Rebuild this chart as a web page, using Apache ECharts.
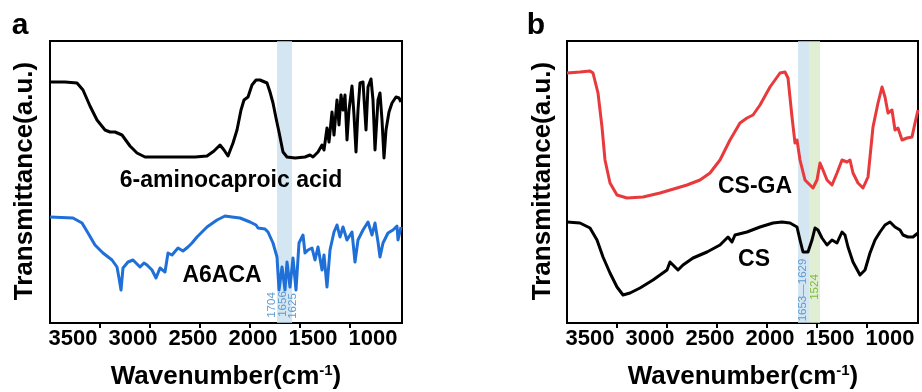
<!DOCTYPE html>
<html><head><meta charset="utf-8">
<script src="https://cdn.jsdelivr.net/npm/echarts@6/dist/echarts.min.js"></script>
<style>html,body{margin:0;padding:0;background:#fff}#c{width:922px;height:392px}</style>
</head><body><div id="c"></div>
<script>
// ---- data (wavenumber cm-1, transmittance a.u.) ----
const xTickLabels = [3500, 3000, 2500, 2000, 1500, 1000];

const acidWn = [4000,3850,3730,3670,3600,3530,3450,3400,3350,3280,3200,3130,3050,2800,2550,2430,2360,2300,2260,2220,2170,2130,2090,2060,2020,1980,1940,1920,1900,1880,1830,1800,1770,1740,1710,1670,1630,1550,1450,1400,1370,1320,1280,1260,1230,1210,1180,1160,1130,1110,1090,1070,1050,1030,1010,980,960,940,920,900,870,840,820,790,770,750,720,700,680,660,640,610,580,540,510,490];
const acidT = [120.5,120.5,120,116.5,108.5,101.5,96.5,95.5,95.5,94,88.5,85,83,83,83,83.5,86,89,86.5,83.5,90,96.5,106.5,111.5,113,119,121.5,122.5,121.5,120.5,120,115.5,110,102.5,95.5,85.5,83,82.5,83,84,83,85.5,89,86.5,97.5,90.5,105.5,94,111.5,99,114,106.5,114,91.5,106.5,118.5,104,85.5,106.5,120,120.5,96.5,118,122,111.5,86.5,111.5,115,101.5,82.5,96.5,105.5,110,113,112.5,110.5];

const a6acaWn = [4000,3770,3680,3620,3550,3470,3380,3330,3310,3290,3270,3220,3170,3130,3100,3060,3030,2980,2940,2900,2850,2820,2780,2720,2670,2620,2580,2530,2430,2330,2250,2180,2100,2000,1940,1920,1900,1850,1820,1770,1730,1710,1680,1650,1630,1600,1570,1540,1510,1470,1450,1420,1380,1350,1320,1280,1260,1230,1200,1160,1130,1100,1070,1030,980,950,920,870,820,780,750,720,700,670,620,570,530,520,490];
const a6acaT = [53,52.5,50,45,39,35,31.5,28,22.5,16.5,27.5,30.5,31.5,29.5,28,30,29,26.5,22.5,27.5,25.5,35,34,37.5,36,38,40,43,48,51.5,53.5,53,52.5,50.5,49,47.5,48.5,47,45.5,40,33,16.5,28,16.5,30.5,18,32.5,16.5,40,44,35,36.5,37.5,31.5,38,26.5,34,18,36.5,45.5,49,43,48,41.5,45.5,30.5,41.5,46.5,50.5,44,50,40.5,33,40,45,46.5,48.5,41.5,48];

const csgaWn = [4000,3870,3770,3740,3720,3690,3650,3620,3570,3500,3400,3240,3070,2900,2800,2670,2570,2470,2370,2270,2200,2140,2070,1970,1870,1820,1790,1750,1720,1700,1670,1620,1590,1540,1500,1470,1440,1400,1350,1300,1250,1200,1170,1140,1090,1040,990,940,890,850,820,790,750,720,690,650,600,550,520,490];
const csgaT = [125,125.5,126,125,124,115,98,81.5,70,64,62.5,63,65,67.5,69,71.5,75,81.5,91.5,100,102.5,104,109,118,125,125.5,122.5,103,90,91.5,81.5,71.5,70,67.5,71.5,80,76.5,71.5,69,75,81.5,80.5,81.5,75,70,67.5,73,98,110,118,113,105,106.5,96.5,97.5,91.5,92.5,93,100,106.5];

const csWn = [4000,3870,3770,3700,3640,3570,3500,3440,3370,3270,3140,3000,2970,2940,2890,2840,2740,2600,2470,2390,2350,2320,2200,2070,1940,1850,1770,1700,1670,1640,1590,1550,1520,1490,1450,1400,1350,1300,1250,1220,1190,1140,1070,1020,970,920,870,820,770,720,670,640,590,540,490];
const csT = [50.5,50,47.5,41.5,33,25,18,14,15,17.5,21.5,26.5,30.5,29,26.5,29,32.5,35.5,39,43,40.5,44,45.5,48,50,50.5,50,48,41.5,35.5,35.5,41.5,47.5,46.5,42.5,39,41.5,40,45.5,44,38,30.5,24,26.5,35,41.5,45.5,49,50.5,48,46.5,44,43,43,45];

// shaded bands (cm-1)
const bandA = [1730, 1580];
const bandB1 = [1690, 1580];
const bandB2 = [1580, 1470];

const FONT = '"Liberation Sans", Arial, sans-serif';
const zip = (a, b) => a.map((v, i) => [v, b[i]]);

const chart = echarts.init(document.getElementById('c'), null, {renderer: 'canvas'});

function dataAxis(grid, min) {
  return {
    type: 'value', gridIndex: grid, position: 'bottom', inverse: true,
    min: min, max: 4000,
    axisLine: {show: true, lineStyle: {color: '#000', width: 2}},
    axisTick: {show: true, customValues: xTickLabels, inside: false, length: 5, lineStyle: {color: '#000', width: 2}},
    axisLabel: {show: false},
    splitLine: {show: false}
  };
}
function labelAxis(grid, min, max) {
  return {
    type: 'value', gridIndex: grid, position: 'bottom', inverse: true,
    min: min, max: max,
    axisLine: {show: false}, axisTick: {show: false}, splitLine: {show: false},
    axisLabel: {customValues: xTickLabels, formatter: v => String(Math.round(v)), fontSize: 22, fontWeight: 'bold', color: '#000', fontFamily: FONT, margin: 5}
  };
}
function yAx(grid) {
  return {
    type: 'value', gridIndex: grid, min: 0, max: 141,
    axisLine: {show: true, lineStyle: {color: '#000', width: 2}},
    axisTick: {show: false}, axisLabel: {show: false}, splitLine: {show: false}
  };
}
function curve(name, xi, yi, wn, t, color) {
  return {
    name, type: 'line', xAxisIndex: xi, yAxisIndex: yi, data: zip(wn, t),
    symbol: 'none', smooth: false, z: 3, silent: true,
    lineStyle: {color: color, width: 3, join: 'round'}
  };
}
function bandSeries(xi, yi, bands) {
  return {
    type: 'line', xAxisIndex: xi, yAxisIndex: yi, data: [[4000, 0]], symbol: 'none', z: 1,
    lineStyle: {opacity: 0}, silent: true,
    markArea: {silent: true, data: bands.map(b => [{xAxis: b[0], itemStyle: {color: b[2]}}, {xAxis: b[1]}])}
  };
}

const txt = (text, x, y, size, color, rot, weight) => ({
  type: 'text', x: x, y: y, rotation: rot || 0, z: 10,
  style: {text: text, fontSize: size, fontWeight: weight || 'bold', fontFamily: FONT, fill: color, align: 'center', verticalAlign: 'middle'}
});

const xTitleStyle = (x) => ({
  type: 'text', x: x, y: 377, z: 10,
  style: {
    text: 'Wavenumber(cm{sup|-1})', fontSize: 26, fontWeight: 'bold', fontFamily: FONT, fill: '#000',
    align: 'center', verticalAlign: 'middle',
    rich: {sup: {fontSize: 15, fontWeight: 'bold', fontFamily: FONT, fill: '#000', padding: [0, 0, 12, 0]}}
  }
});

chart.setOption({
  animation: false,
  backgroundColor: '#fff',
  grid: [
    {left: 50, top: 41, width: 352, height: 282, show: true, borderColor: '#000', borderWidth: 2},
    {left: 567, top: 41, width: 351, height: 282, show: true, borderColor: '#000', borderWidth: 2}
  ],
  xAxis: [dataAxis(0, 480), labelAxis(0, 758.33, 3691.67), dataAxis(1, 490), labelAxis(1, 766.67, 3691.67)],
  yAxis: [yAx(0), yAx(1)],
  series: [
    bandSeries(0, 0, [[bandA[0], bandA[1], 'rgba(196,221,236,0.75)']]),
    curve('6-aminocaproic acid', 0, 0, acidWn, acidT, '#000000'),
    curve('A6ACA', 0, 0, a6acaWn, a6acaT, '#1f6fd8'),
    bandSeries(2, 1, [[bandB1[0], bandB1[1], 'rgba(196,221,236,0.75)'], [bandB2[0], bandB2[1], 'rgba(214,234,196,0.75)']]),
    curve('CS-GA', 2, 1, csgaWn, csgaT, '#e83a3c'),
    curve('CS', 2, 1, csWn, csT, '#000000')
  ],
  graphic: [
    txt('a', 20, 26, 30, '#000'),
    txt('b', 536, 26, 30, '#000'),
    txt('Transmittance(a.u.)', 25, 181, 26, '#000', Math.PI / 2),
    txt('Transmittance(a.u.)', 543, 181, 26, '#000', Math.PI / 2),
    xTitleStyle(226),
    xTitleStyle(743),
    txt('6-aminocaproic acid', 231, 181, 23, '#000'),
    txt('A6ACA', 222, 276, 23, '#000'),
    txt('CS-GA', 755, 187, 23, '#000'),
    txt('CS', 754, 260, 23, '#000'),
    txt('1704', 272, 305, 11.5, '#5e9bd0', Math.PI / 2, 'normal'),
    txt('1656', 283, 304, 11.5, '#5e9bd0', Math.PI / 2, 'normal'),
    txt('1625', 293, 306, 11.5, '#5e9bd0', Math.PI / 2, 'normal'),
    txt('1653—1629', 803, 290, 11.5, '#5e9bd0', Math.PI / 2, 'normal'),
    txt('1524', 815, 287, 11.5, '#7cbb3a', Math.PI / 2, 'normal')
  ]
});
</script>
</body></html>
